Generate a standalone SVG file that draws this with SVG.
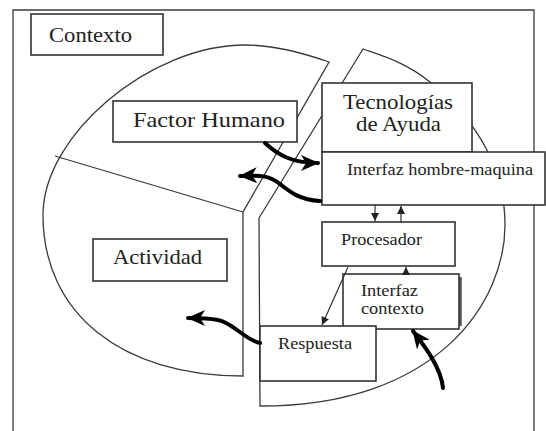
<svg xmlns="http://www.w3.org/2000/svg" width="546" height="431" viewBox="0 0 546 431">
<style>
.pie{fill:none;stroke:#3a3a3a;stroke-width:1.3}
.box{fill:#fff;stroke:#333;stroke-width:1.6}
text{font-family:'Liberation Serif','DejaVu Serif','Times New Roman',serif;fill:#222}
.big{font-size:21px}
.sm{font-size:17px}
.xs{font-size:16px}
.thick{fill:none;stroke:#000;stroke-width:4;stroke-linecap:round}
.thin{fill:none;stroke:#333;stroke-width:1.2}
</style>
<defs>
<marker id="bh" markerUnits="userSpaceOnUse" markerWidth="18" markerHeight="16" viewBox="0 0 18 16" refX="17" refY="8" orient="auto">
<path d="M0,0 L18,8 L0,16 L5,8 Z" fill="#000"/>
</marker>
<marker id="sh" markerUnits="userSpaceOnUse" markerWidth="8" markerHeight="8" viewBox="0 0 8 8" refX="8" refY="4" orient="auto">
<path d="M0,0 L8,4 L0,8 Z" fill="#222"/>
</marker>
</defs>
<rect width="546" height="431" fill="#fff"/>
<g id="frame">
<path class="pie" d="M13,440 V10 H534 V440"/>
</g>
<g id="pie">
<path class="pie" d="M329,62 Q280,45 245,45 C150,45 43,135 43,215 C43,313 121,376 243,376 L243,212 Z"/>
<path class="pie" d="M55,156 L243,212"/>
<path class="pie" d="M259,218 L363,49 C383,56 405,62 430,82 C470,115 505,160 505,225 C505,300 440,406 260,406 Z"/>
</g>
<g id="contexto">
<rect class="box" x="31" y="14" width="132" height="41"/>
<text class="big" x="49" y="42" font-family="Liberation Serif, serif" textLength="83" lengthAdjust="spacingAndGlyphs">Contexto</text>
</g>
<g id="factor-humano">
<rect class="box" x="113" y="101" width="184" height="41"/>
<text class="big" x="133" y="127" font-family="Liberation Serif, serif" textLength="152" lengthAdjust="spacingAndGlyphs">Factor Humano</text>
</g>
<g id="actividad">
<rect class="box" x="93" y="239" width="134" height="42"/>
<text class="big" x="113" y="264" font-family="Liberation Serif, serif" textLength="89" lengthAdjust="spacingAndGlyphs">Actividad</text>
</g>
<g id="tecnologias">
<rect class="box" x="322" y="83" width="150" height="69"/>
<text class="big" x="343" y="109" font-family="Liberation Serif, serif" textLength="110" lengthAdjust="spacingAndGlyphs">Tecnologías</text>
<text class="big" x="356" y="131" font-family="Liberation Serif, serif" textLength="85" lengthAdjust="spacingAndGlyphs">de Ayuda</text>
</g>
<g id="interfaz-hm">
<rect class="box" x="322" y="152" width="223" height="53"/>
<text class="sm" x="347" y="175" font-family="Liberation Serif, serif" textLength="186" lengthAdjust="spacingAndGlyphs">Interfaz hombre-maquina</text>
</g>
<g id="procesador">
<rect class="box" x="322" y="222" width="133" height="44"/>
<text class="sm" x="341" y="245" font-family="Liberation Serif, serif" textLength="81" lengthAdjust="spacingAndGlyphs">Procesador</text>
</g>
<g id="interfaz-contexto">
<line x1="460.5" y1="277" x2="460.5" y2="326" stroke="#555" stroke-width="2.5"/>
<rect class="box" x="343" y="274" width="116" height="55"/>
<text class="xs" x="361" y="296" font-family="Liberation Serif, serif" textLength="57" lengthAdjust="spacingAndGlyphs">Interfaz</text>
<text class="xs" x="361" y="314" font-family="Liberation Serif, serif" textLength="63" lengthAdjust="spacingAndGlyphs">contexto</text>
</g>
<g id="respuesta">
<rect class="box" x="260" y="326" width="116" height="55"/>
<text class="sm" x="278" y="349" font-family="Liberation Serif, serif" textLength="74" lengthAdjust="spacingAndGlyphs">Respuesta</text>
</g>
<g id="connectors">
<path class="thick" d="M265,143 C278,155 292,163 318,163" marker-end="url(#bh)"/>
<path class="thick" d="M320,201 C300,200 290,192 280,184 C270,176 262,175 240,176" marker-end="url(#bh)"/>
<path class="thick" d="M260,343 C245,340 232,322 218,320 C208,318 200,318 188,318" marker-end="url(#bh)"/>
<path class="thick" d="M443,388 C441,368 426,348 413,331" marker-end="url(#bh)"/>
<path class="thin" d="M375,205 L375,221" marker-end="url(#sh)"/>
<path class="thin" d="M401,222 L401,206" marker-end="url(#sh)"/>
<path class="thin" d="M348,267 L322,325" marker-end="url(#sh)"/>
<path class="thin" d="M406,274 L406,267" marker-end="url(#sh)"/>
</g>
</svg>
